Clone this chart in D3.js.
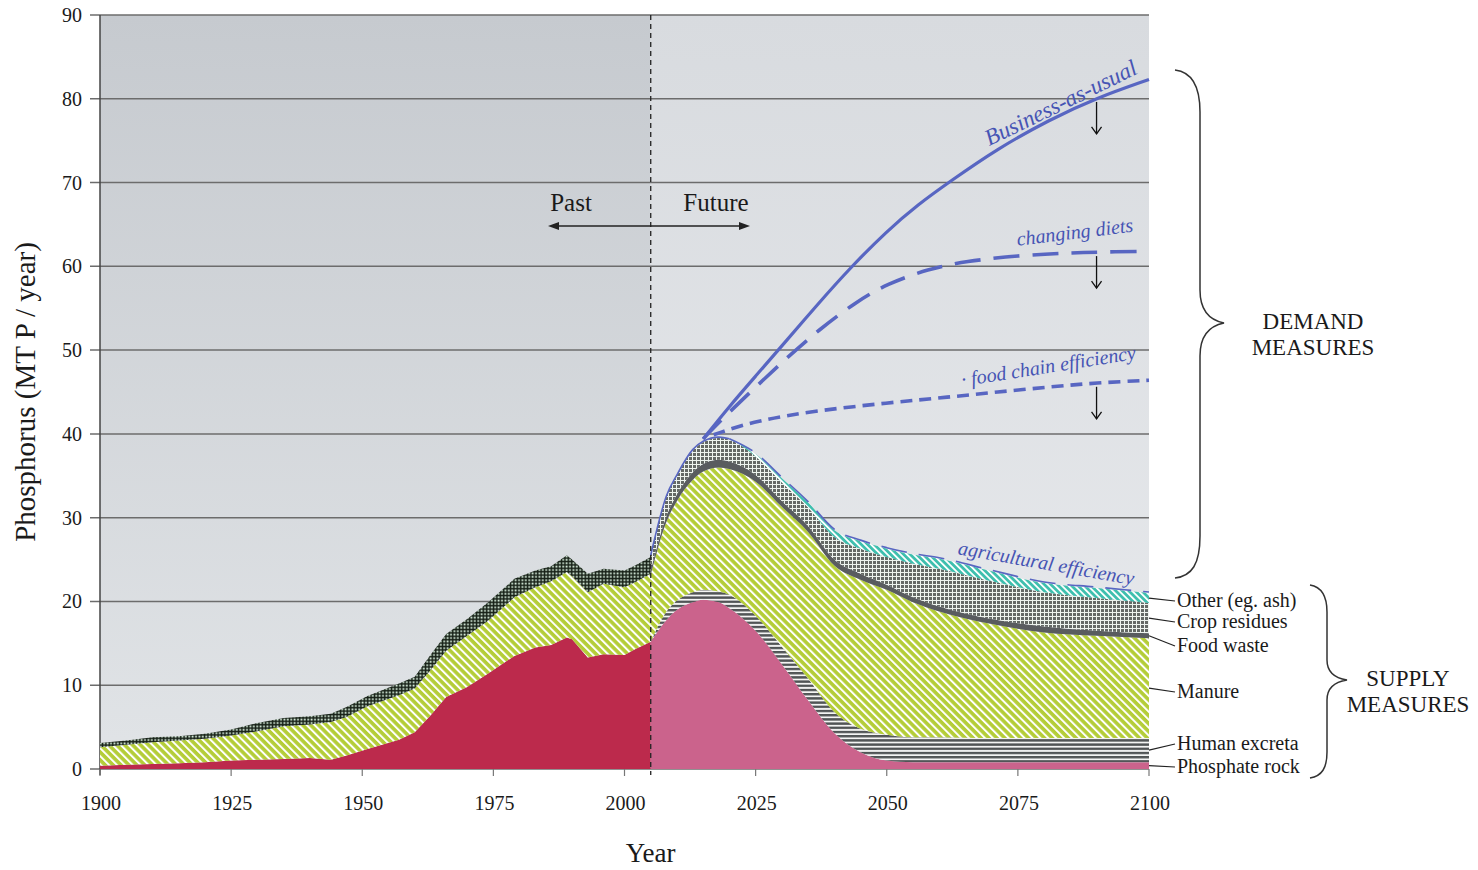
<!DOCTYPE html>
<html><head><meta charset="utf-8">
<script src="https://cdn.jsdelivr.net/npm/d3@7"></script>
<style>
body{margin:0;background:#fff}
svg{display:block}
text{font-family:"Liberation Serif","Times New Roman",serif;fill:#1a1a1a}
</style>
</head><body>
<svg id="chart" width="1478" height="870"></svg>
<script>
// ---------------- DATA ----------------
const pastYears    = [1900,1905,1910,1915,1920,1925,1930,1935,1940,1944,1947,1951,1957,1960,1963,1966,1970,1974,1979,1983,1986,1989,1990,1993,1996,2000,2002,2005];
const pastRock     = [0.4,0.5,0.6,0.7,0.8,1.0,1.1,1.2,1.3,1.1,1.6,2.4,3.5,4.4,6.4,8.6,9.8,11.4,13.5,14.5,14.8,15.7,15.5,13.3,13.7,13.6,14.3,15.2];
const pastManure   = [2.2,2.4,2.6,2.7,2.8,3.0,3.4,3.9,4.0,4.5,4.6,5.1,5.3,5.2,5.4,5.5,6.1,6.3,7.0,7.2,7.6,7.8,7.5,7.8,8.4,8.1,8.0,8.1];
const pastResidues = [0.5,0.5,0.6,0.5,0.6,0.7,1.0,1.0,1.0,1.0,1.2,1.2,1.4,1.4,1.8,2.0,2.0,2.2,2.2,2.0,1.8,2.0,2.0,2.2,1.8,2.0,2.0,2.0];

const futureYears     = [2005,2008,2010,2013,2015,2018,2020,2025,2030,2035,2040,2045,2050,2055,2060,2070,2080,2090,2100];
const futureRock      = [15.2,17.8,19.0,19.9,20.2,19.9,19.2,16.5,12.5,8.2,4.3,2.0,1.0,0.8,0.8,0.8,0.8,0.8,0.8];
const futureExcreta   = [0.0,1.0,1.1,1.2,1.2,1.3,1.6,1.8,2.1,2.6,2.5,2.8,3.1,3.0,3.0,2.9,2.9,2.9,2.9];
const futureManure    = [8.0,10.7,11.9,13.4,14.1,14.8,15.0,16.0,16.7,17.5,17.5,17.8,17.3,16.1,15.0,13.6,12.6,12.2,11.9];
const futureFoodWaste = [0.5,0.7,0.8,0.9,0.9,0.9,0.9,0.8,0.7,0.7,0.7,0.7,0.6,0.6,0.6,0.6,0.7,0.6,0.6];
const futureResidues  = [1.7,2.3,2.2,2.6,2.6,2.6,2.6,2.2,2.2,2.2,2.7,3.0,3.3,4.0,4.5,4.5,4.1,3.9,3.6];
const futureOther     = [0,0,0,0,0,0,0,0.3,0.5,0.6,0.8,0.9,1.0,1.1,1.2,1.2,1.1,1.2,1.2];

const bauYears   = [2015,2020,2025,2030,2037,2043,2050,2056,2062,2071,2081,2090,2100];
const bauValues  = [39.4,43.3,46.9,50.5,55.6,59.8,64.2,67.4,70.1,74.0,77.5,80.1,82.3];
const dietYears  = [2015,2018,2025,2031,2037,2044,2050,2058,2065,2075,2085,2090,2100];
const dietValues = [39.4,41.4,45.6,49.1,52.4,55.7,57.9,59.7,60.6,61.3,61.6,61.7,61.8];
const foodYears  = [2017,2025,2037,2050,2062,2071,2081,2090,2100];
const foodValues = [39.9,41.6,42.8,43.7,44.4,45.0,45.6,46.1,46.4];

const xTicks = [1900,1925,1950,1975,2000,2025,2050,2075,2100];
const yTicks = [0,10,20,30,40,50,60,70,80,90];
const supplyLabels = ["Phosphate rock","Human excreta","Manure","Food waste","Crop residues","Other (eg. ash)"];
const splitYear = 2005;
const arrowYear = 2090;

// ---------------- SETUP ----------------
const svg = d3.select("#chart");
const x = d3.scaleLinear().domain([1900,2100]).range([100,1149]);
const y = d3.scaleLinear().domain([0,90]).range([769,15]);
const blue = "#5866c2";

const defs = svg.append("defs");
function grad(id, c1, c2){
  const g = defs.append("linearGradient").attr("id",id).attr("x1",0).attr("x2",0).attr("y1",0).attr("y2",1);
  g.append("stop").attr("offset","0%").attr("stop-color",c1);
  g.append("stop").attr("offset","100%").attr("stop-color",c2);
}
grad("bgPast","#c6cacf","#e1e4e7");
grad("bgFuture","#d8dbdf","#e8eaed");

function stripes(id, bg, fg, size, lw, angle){
  const p = defs.append("pattern").attr("id",id).attr("patternUnits","userSpaceOnUse")
    .attr("width",size).attr("height",size).attr("patternTransform",`rotate(${angle})`);
  p.append("rect").attr("width",size).attr("height",size).attr("fill",bg);
  p.append("rect").attr("x",0).attr("y",0).attr("width",lw).attr("height",size).attr("fill",fg);
}
stripes("pManure","#b4cd38","#ffffff",5.6,2.0,-45);
stripes("pOther","#3ebfae","#ffffff",4.6,1.8,-45);
(function(){
  const p = defs.append("pattern").attr("id","pExcreta").attr("patternUnits","userSpaceOnUse").attr("width",8).attr("height",4.2);
  p.append("rect").attr("width",8).attr("height",4.2).attr("fill","#f4f4f4");
  p.append("rect").attr("y",0).attr("width",8).attr("height",2.4).attr("fill","#515456");
})();
(function(){
  const p = defs.append("pattern").attr("id","pResPast").attr("patternUnits","userSpaceOnUse").attr("width",3.4).attr("height",3.4);
  p.append("rect").attr("width",3.4).attr("height",3.4).attr("fill","#162016");
  p.append("rect").attr("x",1.3).attr("y",1.3).attr("width",1.8).attr("height",1.8).attr("fill","#d8eedc");
})();
(function(){
  const p = defs.append("pattern").attr("id","pResFuture").attr("patternUnits","userSpaceOnUse").attr("width",4).attr("height",4);
  p.append("rect").attr("width",4).attr("height",4).attr("fill","#eef4ee");
  p.append("rect").attr("x",1).attr("y",1).attr("width",3).attr("height",3).attr("fill","#646965");
})();

// ---------------- BACKGROUND ----------------
svg.append("rect").attr("x",x(1900)).attr("y",y(90)).attr("width",x(splitYear)-x(1900)).attr("height",y(0)-y(90)).attr("fill","url(#bgPast)");
svg.append("rect").attr("x",x(splitYear)).attr("y",y(90)).attr("width",x(2100)-x(splitYear)).attr("height",y(0)-y(90)).attr("fill","url(#bgFuture)");

svg.append("g").selectAll("line").data(yTicks).join("line")
  .attr("x1",90).attr("x2",x(2100)).attr("y1",d=>y(d)).attr("y2",d=>y(d))
  .attr("stroke","#6c6c6c").attr("stroke-width",1.5);
svg.append("line").attr("x1",x(1900)).attr("x2",x(1900)).attr("y1",y(90)).attr("y2",y(0)+6).attr("stroke","#444").attr("stroke-width",1.5);
svg.append("g").selectAll("line").data(xTicks).join("line")
  .attr("x1",d=>x(d)).attr("x2",d=>x(d)).attr("y1",y(0)).attr("y2",y(0)+7)
  .attr("stroke","#777").attr("stroke-width",1.2);

// ---------------- STACKS ----------------
function buildStack(years, keys, arrays){
  const rows = years.map((yr,i)=>{const o={year:yr}; keys.forEach((k,j)=>o[k]=arrays[j][i]); return o;});
  return d3.stack().keys(keys)(rows);
}
const pastStack = buildStack(pastYears,["rock","manure","residues"],[pastRock,pastManure,pastResidues]);
const futureStack = buildStack(futureYears,["rock","excreta","manure","food","residues","other"],
  [futureRock,futureExcreta,futureManure,futureFoodWaste,futureResidues,futureOther]);

const pastFill = {rock:"#bc2a4c",manure:"url(#pManure)",residues:"url(#pResPast)"};
const futureFill = {rock:"#cb638c",excreta:"url(#pExcreta)",manure:"url(#pManure)",food:"#595c5f",residues:"url(#pResFuture)",other:"url(#pOther)"};

const areaPast = d3.area().x(d=>x(d.data.year)).y0(d=>y(d[0])).y1(d=>y(d[1])).curve(d3.curveLinear);
const areaFuture = d3.area().x(d=>x(d.data.year)).y0(d=>y(d[0])).y1(d=>y(d[1])).curve(d3.curveMonotoneX);

svg.append("g").selectAll("path").data(pastStack).join("path")
  .attr("d",areaPast).attr("fill",d=>pastFill[d.key]);
svg.append("g").selectAll("path").data(futureStack).join("path")
  .attr("d",areaFuture).attr("fill",d=>futureFill[d.key]);

const stackTop = futureStack[futureStack.length-1];
const topLine = d3.line().x(d=>x(d.data.year)).y(d=>y(d[1])-1).curve(d3.curveMonotoneX);
svg.append("path").attr("d",topLine(stackTop.filter(d=>d.data.year<=2020)))
  .attr("fill","none").attr("stroke",blue).attr("stroke-width",1.6);
svg.append("path").attr("d",topLine(stackTop.filter(d=>d.data.year>=2020)))
  .attr("fill","none").attr("stroke",blue).attr("stroke-width",1.6).attr("stroke-dasharray","26,12");

// ---------------- DEMAND LINES ----------------
const ln = d3.line().x(d=>x(d[0])).y(d=>y(d[1])).curve(d3.curveBasis);
svg.append("path").attr("d",ln(bauYears.map((yr,i)=>[yr,bauValues[i]])))
  .attr("fill","none").attr("stroke",blue).attr("stroke-width",3.2);
svg.append("path").attr("d",ln(dietYears.map((yr,i)=>[yr,dietValues[i]])))
  .attr("fill","none").attr("stroke",blue).attr("stroke-width",3.6).attr("stroke-dasharray","26,13");
svg.append("path").attr("d",ln(foodYears.map((yr,i)=>[yr,foodValues[i]])))
  .attr("fill","none").attr("stroke",blue).attr("stroke-width",3.6).attr("stroke-dasharray","12,7");

svg.append("line").attr("x1",x(splitYear)).attr("x2",x(splitYear)).attr("y1",y(90)).attr("y2",y(0)+6)
  .attr("stroke","#222").attr("stroke-width",1.3).attr("stroke-dasharray","5,4");

function downArrow(val){
  const ax = x(arrowYear), y1 = y(val)+4, y2 = y1+32;
  const g = svg.append("g").attr("stroke","#111").attr("stroke-width",1.3).attr("fill","none");
  g.append("line").attr("x1",ax).attr("x2",ax).attr("y1",y1).attr("y2",y2);
  g.append("path").attr("d",`M${ax-5},${y2-7} L${ax},${y2} L${ax+5},${y2-7}`);
}
downArrow(bauValues[bauYears.indexOf(2090)]);
downArrow(dietValues[dietYears.indexOf(2090)]);
downArrow(foodValues[foodYears.indexOf(2090)]);

// ---------------- LABELS ----------------
svg.append("g").selectAll("text").data(yTicks).join("text")
  .attr("x",82).attr("y",d=>y(d)+7).attr("text-anchor","end").attr("font-size",20).text(d=>d);
svg.append("g").selectAll("text").data(xTicks).join("text")
  .attr("x",d=>x(d)+1).attr("y",810).attr("text-anchor","middle").attr("font-size",20).text(d=>d);

svg.append("text").attr("transform",`translate(35,${(y(0)+y(90))/2}) rotate(-90)`)
  .attr("text-anchor","middle").attr("font-size",29).text("Phosphorus (MT P / year)");
svg.append("text").attr("x",x(splitYear)).attr("y",862).attr("text-anchor","middle").attr("font-size",27).text("Year");

svg.append("text").attr("x",571).attr("y",211).attr("text-anchor","middle").attr("font-size",25).text("Past");
svg.append("text").attr("x",716).attr("y",211).attr("text-anchor","middle").attr("font-size",25).text("Future");
(function(){
  const g = svg.append("g");
  const yy = 226, xl = 548, xr = 750;
  g.append("line").attr("x1",xl+6).attr("x2",xr-6).attr("y1",yy).attr("y2",yy).attr("stroke","#222").attr("stroke-width",1.6);
  g.append("path").attr("d",`M${xl},${yy} L${xl+11},${yy-4} L${xl+11},${yy+4} Z`).attr("fill","#222");
  g.append("path").attr("d",`M${xr},${yy} L${xr-11},${yy-4} L${xr-11},${yy+4} Z`).attr("fill","#222");
})();

function scen(txt, yr, val, ang, size){
  svg.append("text").attr("transform",`translate(${x(yr)},${y(val)}) rotate(${ang})`)
    .attr("text-anchor","middle").attr("font-size",size).attr("font-style","italic")
    .style("fill","#4654b4").text(txt);
}
scen("Business-as-usual", 2083.8, 78.7, -26, 23);
scen("changing diets", 2086.0, 63.3, -7, 20);
scen("· food chain efficiency", 2081.0, 47.3, -9, 20);
scen("agricultural efficiency", 2080.2, 23.8, 10, 20);

const labelY = [767,744,692,646,622,601];
const g2 = svg.append("g");
futureStack.forEach((s,i)=>{
  const last = s[s.length-1];
  const mid = (last[0]+last[1])/2;
  g2.append("path").attr("d",`M${x(2100)},${y(mid)} L1175,${labelY[i]}`).attr("stroke","#222").attr("stroke-width",1.2).attr("fill","none");
  g2.append("text").attr("x",1177).attr("y",labelY[i]+6).attr("font-size",20).text(supplyLabels[i]);
});

svg.append("path")
  .attr("d","M1175,70 C1192,72 1200,86 1200,112 L1200,290 C1200,310 1209,320 1224,323 C1209,326 1200,336 1200,356 L1200,536 C1200,564 1192,576 1175,578")
  .attr("fill","none").attr("stroke","#333").attr("stroke-width",1.5);
svg.append("path")
  .attr("d","M1310,585 C1322,587 1327,596 1327,612 L1327,660 C1327,672 1334,678 1347,680 C1334,682 1327,688 1327,700 L1327,752 C1327,768 1322,776 1310,778")
  .attr("fill","none").attr("stroke","#333").attr("stroke-width",1.5);

svg.append("text").attr("x",1313).attr("y",329).attr("text-anchor","middle").attr("font-size",23).text("DEMAND");
svg.append("text").attr("x",1313).attr("y",355).attr("text-anchor","middle").attr("font-size",23).text("MEASURES");
svg.append("text").attr("x",1408).attr("y",686).attr("text-anchor","middle").attr("font-size",23).text("SUPPLY");
svg.append("text").attr("x",1408).attr("y",712).attr("text-anchor","middle").attr("font-size",23).text("MEASURES");
</script>
</body></html>
